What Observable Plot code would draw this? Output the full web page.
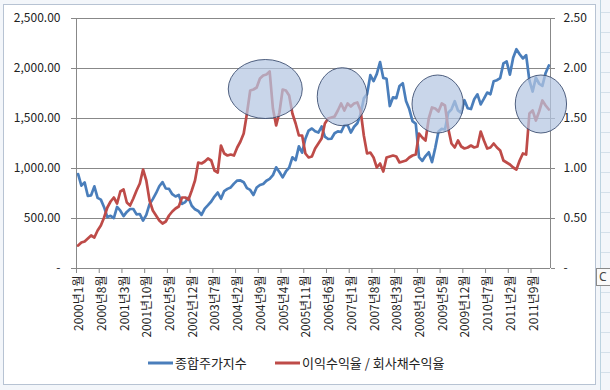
<!DOCTYPE html>
<html>
<head>
<meta charset="utf-8">
<script src="https://cdn.jsdelivr.net/npm/d3@7"></script>
<script src="https://cdn.jsdelivr.net/npm/@observablehq/plot@0.6"></script>
<style>
  html, body { margin: 0; padding: 0; background: #ffffff; }
  #chart { width: 610px; height: 390px; }
</style>
</head>
<body>
<div id="chart"></div>
<script>
// Monthly data, 2000-01 .. 2012-02 (146 months)
const kospi = [
  943.88, 828.38, 860.94, 725.39, 731.88, 821.22, 705.97, 688.62, 613.22, 514.48, 526.62, 504.62,
  615.64, 578.09, 523.22, 565.89, 595.10, 595.13, 541.55, 545.11, 479.68, 535.67, 643.34, 693.70,
  752.76, 822.10, 863.47, 800.01, 796.35, 742.72, 719.97, 735.61, 646.42, 664.41, 708.73, 627.55,
  591.89, 575.43, 535.70, 599.35, 633.42, 669.93, 719.51, 759.47, 697.52, 774.52, 796.18, 810.71,
  848.80, 879.37, 880.50, 862.84, 803.79, 785.79, 735.34, 810.08, 835.09, 845.56, 878.06, 895.92,
  932.70, 1011.36, 965.67, 911.31, 970.21, 1008.16, 1111.29, 1083.33, 1221.01, 1158.11, 1297.40, 1379.37,
  1399.83, 1371.59, 1359.60, 1419.73, 1317.70, 1295.15, 1297.76, 1352.74, 1371.41, 1364.55, 1432.22, 1434.46,
  1360.23, 1417.35, 1452.55, 1542.24, 1700.91, 1743.60, 1933.27, 1873.24, 1946.48, 2064.85, 1906.00, 1897.13,
  1624.68, 1711.62, 1703.99, 1825.47, 1852.02, 1674.92, 1594.67, 1474.24, 1448.06, 1113.06, 1076.07, 1124.47,
  1162.11, 1063.03, 1206.26, 1369.36, 1395.89, 1390.07, 1557.29, 1591.85, 1673.14, 1580.69, 1555.60, 1682.77,
  1602.43, 1594.58, 1692.85, 1741.56, 1641.25, 1698.29, 1759.33, 1742.75, 1872.81, 1882.95, 1904.63, 2051.00,
  2069.73, 1939.30, 2106.70, 2192.36, 2142.47, 2100.69, 2133.21, 1880.11, 1769.65, 1909.03, 1847.51, 1825.74,
  1955.79, 2030.25
];
const yieldRatio = [
  0.23, 0.26, 0.27, 0.30, 0.33, 0.31, 0.38, 0.43, 0.51, 0.61, 0.67, 0.71,
  0.65, 0.77, 0.79, 0.66, 0.63, 0.70, 0.78, 0.85, 0.99, 0.88, 0.68, 0.58,
  0.53, 0.48, 0.45, 0.47, 0.53, 0.57, 0.60, 0.62, 0.71, 0.71, 0.69, 0.78,
  0.88, 1.06, 1.05, 1.07, 1.10, 1.08, 0.98, 0.96, 1.23, 1.15, 1.13, 1.14,
  1.13, 1.21, 1.27, 1.35, 1.55, 1.78, 1.79, 1.81, 1.90, 1.93, 1.94, 1.97,
  1.60, 1.43, 1.56, 1.79, 1.78, 1.73, 1.55, 1.45, 1.33, 1.33, 1.15, 1.11,
  1.12, 1.20, 1.25, 1.30, 1.45, 1.50, 1.51, 1.52, 1.58, 1.65, 1.58, 1.65,
  1.62, 1.65, 1.66, 1.58, 1.33, 1.15, 1.16, 1.11, 1.01, 1.05, 0.97, 1.11,
  1.12, 1.13, 1.12, 1.06, 1.07, 1.08, 1.11, 1.13, 1.14, 1.35, 1.31, 1.28,
  1.50, 1.61, 1.60, 1.57, 1.65, 1.63, 1.40, 1.25, 1.21, 1.28, 1.22, 1.20,
  1.21, 1.23, 1.21, 1.22, 1.37, 1.28, 1.20, 1.21, 1.25, 1.21, 1.18, 1.08,
  1.06, 1.04, 1.01, 0.99, 1.08, 1.15, 1.14, 1.55, 1.58, 1.48, 1.57, 1.68,
  1.63, 1.59
];
const tickLabels = ["2000년1월","2000년8월","2001년3월","2001년10월","2002년5월","2002년12월","2003년7월",
  "2004년2월","2004년9월","2005년4월","2005년11월","2006년6월","2007년1월","2007년8월","2008년3월",
  "2008년10월","2009년5월","2009년12월","2010년7월","2011년2월","2011년9월"];
const tickMonthIndex = [0,7,14,21,28,35,42,49,56,63,70,77,84,91,98,105,112,119,126,133,140];
const yTicks = [0, 500, 1000, 1500, 2000, 2500];
const seriesNames = ["종합주가지수", "이익수익율 / 회사채수익율"];
// highlighted regions (centre month index, centre value on left axis, half-width in months, half-height in index points)
const hlMonth = [57.8, 81.5, 110.9, 142.7];
const hlValue = [1790, 1713, 1640, 1640];
const hlHalfMonths = [11.4, 7.7, 7.9, 7.9];
const hlHalfValue = [295, 290, 290, 290];

const blue = "#4a7ebb", red = "#be4b48", gridC = "#888888";
const kData = kospi.map((v, i) => ({i, v}));
const rData = yieldRatio.map((v, i) => ({i, v: v * 1000}));
const boundaries = tickMonthIndex.map(d => d - 0.5);

const fmtLeft = d => d === 0 ? "-" : d3.format(",.2f")(d);
const fmtRight = d => d === 0 ? "-" : (d / 1000).toFixed(2);

const plot = Plot.plot({
  width: 610, height: 390,
  marginLeft: 76, marginRight: 60, marginTop: 18, marginBottom: 122,
  style: {fontFamily: "'Noto Sans CJK KR', 'Noto Sans', sans-serif", fontSize: "12px", color: "#222", background: "white", overflow: "visible"},
  x: {domain: [-0.5, 145.5], axis: null},
  y: {domain: [0, 2500], axis: null},
  marks: [
    Plot.gridY(yTicks.slice(1), {stroke: gridC, strokeOpacity: 1}),
    Plot.axisY({anchor: "left", ticks: yTicks, tickSize: 5, tickPadding: 11, tickFormat: fmtLeft, stroke: gridC, label: null, fontSize: 12}),
    Plot.axisY({anchor: "right", ticks: yTicks, tickSize: 4, tickPadding: 9, tickFormat: fmtRight, stroke: gridC, label: null, fontSize: 12}),
    Plot.ruleX([-0.5, 145.5], {stroke: gridC}),
    Plot.ruleY([0], {stroke: gridC}),
    Plot.axisX({ticks: boundaries, tickSize: 5, tickFormat: () => "", stroke: gridC, label: null}),
    Plot.text(tickMonthIndex, {x: d => d, text: (d, i) => tickLabels[i], frameAnchor: "bottom", rotate: -90, textAnchor: "end", dy: 7, dx: 5, fontSize: 12, fill: "#222"}),
    Plot.line(kData, {x: "i", y: "v", stroke: blue, strokeWidth: 2.7, strokeLinejoin: "round"}),
    Plot.line(rData, {x: "i", y: "v", stroke: red, strokeWidth: 2.7, strokeLinejoin: "round"})
  ]
});

const svg = d3.select(plot);
const xs = plot.scale("x"), ys = plot.scale("y");

// highlight ellipses
const gE = svg.append("g");
hlMonth.forEach((m, k) => {
  const cx = xs.apply(m), cy = ys.apply(hlValue[k]);
  gE.append("ellipse")
    .attr("cx", cx).attr("cy", cy)
    .attr("rx", xs.apply(m + hlHalfMonths[k]) - cx)
    .attr("ry", ys.apply(hlValue[k] - hlHalfValue[k]) - cy)
    .attr("fill", "#b4c6e2").attr("fill-opacity", 0.72)
    .attr("stroke", "#3d4f72").attr("stroke-width", 0.9);
});

// legend
const lg = svg.append("g").attr("font-family", "'Noto Sans CJK KR', sans-serif").attr("font-size", 13)
  .attr("fill", "#222").attr("text-anchor", "start");
const legendX = [148, 275];
seriesNames.forEach((name, k) => {
  lg.append("line").attr("x1", legendX[k]).attr("x2", legendX[k] + 25).attr("y1", 363).attr("y2", 363)
    .attr("stroke", k === 0 ? blue : red).attr("stroke-width", 3);
  lg.append("text").attr("x", legendX[k] + 27).attr("y", 363).attr("dy", "0.35em")
    .attr("text-anchor", "start").text(name);
});

// spreadsheet surroundings / chart area border
const deco = svg.insert("g", ":first-child");
deco.append("rect").attr("x", 0).attr("y", 0).attr("width", 610).attr("height", 390).attr("fill", "#f3f6fa");
deco.append("rect").attr("x", 3.5).attr("y", 4.5).attr("width", 592).attr("height", 380).attr("fill", "white").attr("stroke", "#b7c3d3");
deco.append("line").attr("x1", 600.5).attr("x2", 600.5).attr("y1", 0).attr("y2", 390).attr("stroke", "#bcd3e0");
for (let y = 12; y < 390; y += 20) deco.append("line").attr("x1", 601).attr("x2", 610).attr("y1", y + 0.5).attr("y2", y + 0.5).attr("stroke", "#d4e0ea");
const cb = svg.append("g").attr("text-anchor", "start");
cb.append("rect").attr("x", 596.5).attr("y", 268.5).attr("width", 16).attr("height", 17).attr("fill", "#fafafa").attr("stroke", "#8a8a8a");
cb.append("text").attr("x", 599).attr("y", 281).attr("font-family", "'Noto Sans', sans-serif").attr("font-size", 12).attr("fill", "#444").text("C");

document.getElementById("chart").appendChild(plot);
</script>
</body>
</html>
